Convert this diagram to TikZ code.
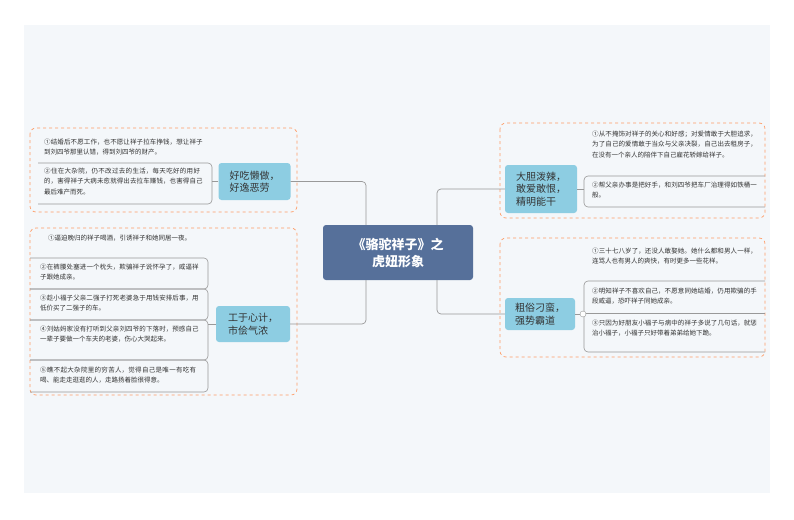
\documentclass[tikz,border=0pt]{standalone}
\usepackage{fontspec}
\setmainfont{Noto Sans CJK SC}
\XeTeXlinebreaklocale "zh"
\XeTeXlinebreakskip=0pt plus 1pt
\begin{document}
\begin{tikzpicture}[x=1pt,y=-1pt,
  grp/.style={draw=orange!70!red!60, dashed, rounded corners=6pt, line width=0.7pt},
  br/.style={fill=brcol, rounded corners=3pt, text=black!80, font=\fontsize{10}{12.5}\selectfont, align=left, inner sep=0pt},
  lf/.style={anchor=north west, text width=#1, align=left, font=\fontsize{6.5}{10.2}\selectfont, text=black!80, inner sep=0pt},
  lf/.default=160pt,
  frame/.style={draw=gray!80, line width=0.6pt, rounded corners=4pt},
  con/.style={draw=gray!80, line width=0.7pt, rounded corners=4pt}]
\definecolor{brcol}{HTML}{8DCDE2}
\definecolor{cen}{HTML}{56709A}
\definecolor{bg}{HTML}{F4F7FA}
\useasboundingbox (0,0) rectangle (794,519);
\fill[white] (0,0) rectangle (794,519);
\fill[bg] (24,25) rectangle (770,493);
% central
\node[fill=cen, rounded corners=3pt, minimum width=150pt, minimum height=55pt, text=white, font=\fontsize{13}{17}\selectfont\bfseries, align=center] (c) at (398,252.5) {《骆驼祥子》之\\虎妞形象};
% groups
\draw[grp] (30,128) rectangle (297,212);
\draw[grp] (30,228) rectangle (297,395);
\draw[grp] (500,123) rectangle (765,218);
\draw[grp] (500,238) rectangle (765,357);
% branches
\node[br, minimum width=72pt, minimum height=37pt] (b1) at (254.5,181.5) {好吃懒做，\\好逸恶劳};
\node[br, minimum width=74pt, minimum height=36pt] (b2) at (253,324) {工于心计，\\市侩气浓};
\node[br, minimum width=72pt, minimum height=48pt] (b3) at (541,189) {大胆泼辣，\\敢爱敢恨，\\精明能干};
\node[br, minimum width=70pt, minimum height=32pt] (b4) at (540,314) {粗俗刁蛮，\\强势霸道};
% connectors from center
\coordinate (cl1) at (366,225); \coordinate (cl2) at (366,280);
\coordinate (cr1) at (437,225); \coordinate (cr2) at (437,280);
\draw[con] (cl1) |- (b1.east);
\draw[con] (cl2) |- (b2.east);
\draw[con] (cr1) |- (b3.west);
\draw[con] (cr2) |- (b4.west);
% left group 1 leaves
\node[lf] (l11) at (44,139) {①结婚后不愿工作，也不愿让祥子拉车挣钱，想让祥子到刘四爷那里认错，得到刘四爷的财产。};
\node[lf] (l12) at (44,168) {②住在大杂院，仍不改过去的生活，每天吃好的用好的，害得祥子大病未愈就得出去拉车赚钱，也害得自己最后难产而死。};
\draw[frame] (38,163) -- (212,163) -- (212,204) -- (38,204);
\draw[con] (b1.west) -- (212,181.5);
% left group 2 leaves
\node[lf=150pt] (l21) at (48,235) {①逼迫晚归的祥子喝酒，引诱祥子和她同居一夜。};
\node[lf] (l22) at (40,264) {②在裤腰处塞进一个枕头，欺骗祥子说怀孕了，威逼祥子跟她成亲。};
\node[lf] (l23) at (40,295) {③趁小福子父亲二强子打死老婆急于用钱安排后事，用低价买了二强子的车。};
\node[lf] (l24) at (40,326) {④刘姑妈家没有打听到父亲刘四爷的下落时，预感自己一辈子要做一个车夫的老婆，伤心大哭起来。};
\node[lf] (l25) at (40,367) {⑤瞧不起大杂院里的穷苦人，觉得自己是唯一有吃有喝、能走走逛逛的人，走路扬着脸很得意。};
\draw[frame] (30,258) -- (208,258) -- (208,289) -- (30,289);
\draw[frame] (30,289) -- (208,289) -- (208,320) -- (30,320);
\draw[frame] (30,320) -- (208,320) -- (208,360) -- (30,360);
\draw[frame] (30,360) -- (208,360) -- (208,392) -- (30,392);
\draw[con] (b2.west) -- (208,324);
% right group 1 leaves
\node[lf=166pt] (r11) at (592,131) {①从不掩饰对祥子的关心和好感；对爱情敢于大胆追求，为了自己的爱情敢于当众与父亲决裂，自己出去租房子，在没有一个亲人的陪伴下自己雇花轿嫁给祥子。};
\node[lf=166pt] (r12) at (592,182) {②帮父亲办事是把好手，和刘四爷把车厂治理得如铁桶一般。};
\draw[frame] (765,176) -- (584,176) -- (584,207) -- (765,207);
\draw[con] (b3.east) -- (584,189);
% right group 2 leaves
\node[lf=166pt] (r21) at (592,248) {①三十七八岁了，还没人敢娶她。她什么都和男人一样，连骂人也有男人的爽快，有时更多一些花样。};
\node[lf=166pt] (r22) at (592,288) {②明知祥子不喜欢自己，不愿意同她结婚，仍用欺骗的手段威逼，恐吓祥子同她成亲。};
\node[lf=166pt] (r23) at (592,320) {③只因为好朋友小福子与病中的祥子多说了几句话，就惩治小福子，小福子只好带着弟弟给她下跪。};
\draw[frame] (765,281) -- (584,281) -- (584,352) -- (765,352);
\draw[frame] (584,313) -- (765,313);
\draw[con] (b4.east) -- (580,314);
\node[circle, draw=gray!80, fill=white, inner sep=0pt, minimum size=6pt] (k) at (583,314) {};
\end{tikzpicture}
\end{document}
